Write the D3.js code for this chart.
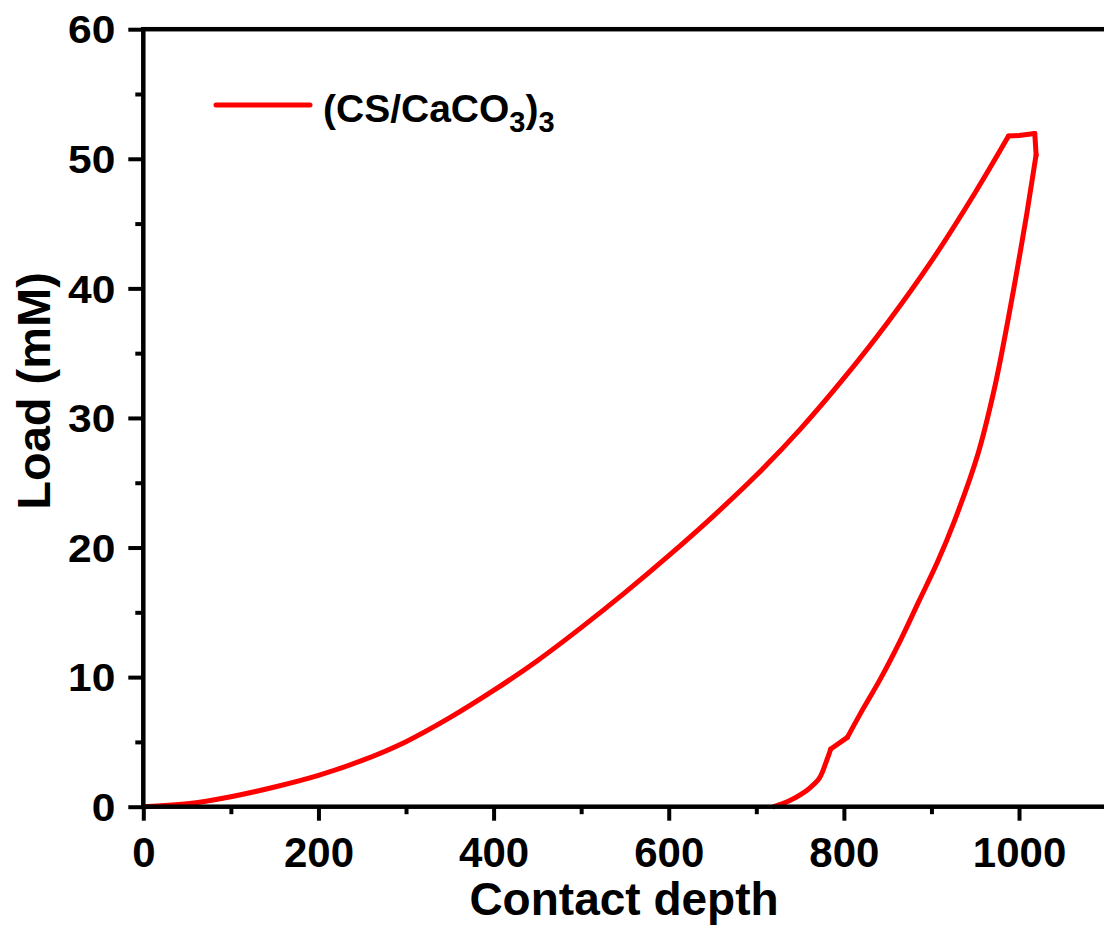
<!DOCTYPE html>
<html>
<head>
<meta charset="utf-8">
<script src="https://cdn.jsdelivr.net/npm/d3@7"></script>
<style>
  html, body { margin: 0; padding: 0; background: #ffffff; }
  svg { display: block; font-family: "Liberation Sans", Arial, sans-serif; font-weight: bold; }
</style>
</head>
<body>
<svg id="chart" width="1104" height="931"></svg>
<script>
// Loading branch: contact depth vs load
const loadDepth = [0, 50, 100, 150, 200, 250, 300, 350, 400, 450, 500, 550, 600, 650, 700, 750, 800, 850, 900, 950, 988, 1000, 1018];
const loadForce = [0, 0.22, 0.77, 1.52, 2.42, 3.57, 5.02, 6.87, 8.97, 11.27, 13.82, 16.52, 19.37, 22.37, 25.57, 29.12, 33.07, 37.37, 42.1, 47.4, 51.75, 51.8, 51.95];

// Unloading branch
const unloadDepth = [1018, 1019.5, 1016, 1009, 998, 987, 972, 953, 926, 907, 886, 865, 842, 819, 804, 785, 780, 772, 762, 751, 736, 720];
const unloadForce = [51.95, 50.3, 48.8, 45.8, 41.5, 37.4, 32.3, 27.2, 22.0, 18.9, 15.9, 12.9, 9.9, 7.2, 5.35, 4.45, 3.5, 2.2, 1.5, 0.95, 0.4, 0];

const xTicks = [0, 200, 400, 600, 800, 1000];
const xMinorTicks = [100, 300, 500, 700, 900];
const yTicks = [0, 10, 20, 30, 40, 50, 60];
const yMinorTicks = [5, 15, 25, 35, 45, 55];

const seriesName = "(CS/CaCO3)3";
const xTitle = "Contact depth";
const yTitle = "Load (mM)";

const svg = d3.select("#chart");
const plotLeft = 143.3, plotRight = 1106.6, plotTop = 29.2, plotBottom = 806.7;

const x = d3.scaleLinear().domain([0, 1100]).range([plotLeft, plotRight]);
const y = d3.scaleLinear().domain([0, 60]).range([plotBottom, plotTop]);

const red = "#ff0000";
const lw = 4.5;

const loading = loadDepth.map((d, i) => [d, loadForce[i]]);
const unloading = unloadDepth.map((d, i) => [d, unloadForce[i]]);

// smooth stretches are drawn with Catmull-Rom, the corners (flat top, pop-in step) stay sharp
const smooth = d3.line().x(d => x(d[0])).y(d => y(d[1])).curve(d3.curveCatmullRom.alpha(0.5));
const straight = d3.line().x(d => x(d[0])).y(d => y(d[1])).curve(d3.curveLinear);

const pieces = [
  { pts: loading.slice(0, 21), gen: smooth },        // 0 .. 988
  { pts: loading.slice(20), gen: straight },         // flat hold at peak
  { pts: unloading.slice(0, 2), gen: straight },     // drop off the peak corner
  { pts: unloading.slice(1, 15), gen: smooth },      // main unloading
  { pts: unloading.slice(14, 16), gen: straight },   // step
  { pts: unloading.slice(15), gen: smooth }          // tail to zero
];

svg.append("g").selectAll("path")
  .data(pieces)
  .join("path")
  .attr("d", d => d.gen(d.pts))
  .attr("fill", "none")
  .attr("stroke", red)
  .attr("stroke-width", 5)
  .attr("stroke-linejoin", "round")
  .attr("stroke-linecap", "round");

// bottom axis, major + minor ticks
const xAxis = svg.append("g")
  .attr("transform", `translate(0,${plotBottom})`)
  .call(d3.axisBottom(x).tickValues(xTicks).tickSize(14).tickSizeOuter(0).tickFormat(d3.format("d")));
xAxis.select(".domain").remove();
xAxis.selectAll(".tick line").attr("stroke", "#000").attr("stroke-width", 4);
xAxis.selectAll(".tick text")
  .attr("y", 60.3).attr("dy", 0)
  .attr("font-size", 42).attr("font-weight", "bold")
  .attr("font-family", "Liberation Sans, Arial, sans-serif")
  .attr("fill", "#000");

const xMinor = svg.append("g")
  .attr("transform", `translate(0,${plotBottom})`)
  .call(d3.axisBottom(x).tickValues(xMinorTicks).tickSize(7.5).tickSizeOuter(0).tickFormat(""));
xMinor.select(".domain").remove();
xMinor.selectAll(".tick line").attr("stroke", "#000").attr("stroke-width", 4);

// left axis, major + minor ticks
const yAxis = svg.append("g")
  .attr("transform", `translate(${plotLeft},0)`)
  .call(d3.axisLeft(y).tickValues(yTicks).tickSize(15).tickSizeOuter(0).tickFormat(d3.format("d")));
yAxis.select(".domain").remove();
yAxis.selectAll(".tick line").attr("stroke", "#000").attr("stroke-width", 4);
yAxis.selectAll(".tick text")
  .attr("x", 0).attr("dy", "0.36em")
  .attr("transform", "translate(-28,0) scale(1.12,1)")
  .attr("text-anchor", "end")
  .attr("font-size", 38).attr("font-weight", "bold")
  .attr("font-family", "Liberation Sans, Arial, sans-serif")
  .attr("fill", "#000");

const yMinor = svg.append("g")
  .attr("transform", `translate(${plotLeft},0)`)
  .call(d3.axisLeft(y).tickValues(yMinorTicks).tickSize(8).tickSizeOuter(0).tickFormat(""));
yMinor.select(".domain").remove();
yMinor.selectAll(".tick line").attr("stroke", "#000").attr("stroke-width", 4);

// frame
svg.append("rect")
  .attr("x", plotLeft).attr("y", plotTop)
  .attr("width", plotRight - plotLeft).attr("height", plotBottom - plotTop)
  .attr("fill", "none").attr("stroke", "#000").attr("stroke-width", lw);

// axis titles
svg.append("text")
  .attr("x", 624).attr("y", 915)
  .attr("text-anchor", "middle")
  .attr("font-size", 46)
  .attr("fill", "#000")
  .text(xTitle);

svg.append("text")
  .attr("transform", "translate(50,391) rotate(-90)")
  .attr("text-anchor", "middle")
  .attr("font-size", 47)
  .attr("fill", "#000")
  .text(yTitle);

// legend
const legend = svg.append("g");
legend.append("line")
  .attr("x1", 216).attr("x2", 310)
  .attr("y1", 105).attr("y2", 105)
  .attr("stroke", red).attr("stroke-width", 5)
  .attr("stroke-linecap", "round");

const lt = legend.append("text")
  .attr("x", 323).attr("y", 122)
  .attr("font-size", 39)
  .attr("fill", "#000");
// split "(CS/CaCO3)3" into main text and subscripts
const parts = seriesName.match(/[^0-9]+|[0-9]+/g);
parts.forEach((p, i) => {
  const isSub = /^[0-9]+$/.test(p);
  const prevSub = i > 0 && /^[0-9]+$/.test(parts[i - 1]);
  const ts = lt.append("tspan").text(p);
  if (isSub) ts.attr("font-size", 29).attr("dy", 10);
  else if (prevSub) ts.attr("dy", -10);
});
</script>
</body>
</html>
